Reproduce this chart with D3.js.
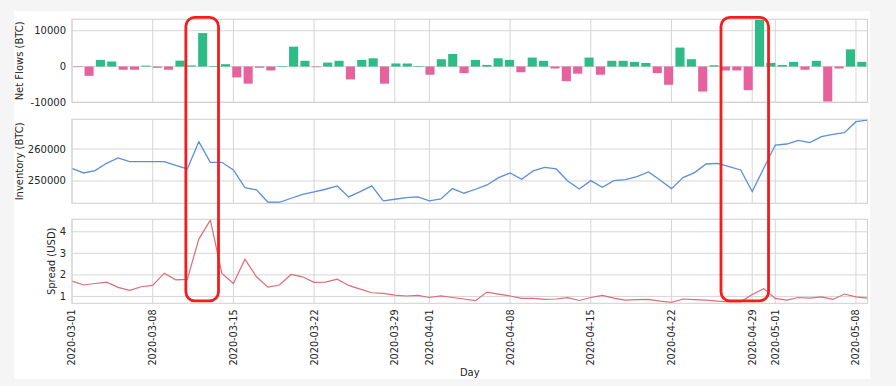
<!DOCTYPE html>
<html>
<head>
<meta charset="utf-8">
<script src="https://cdn.jsdelivr.net/npm/d3@7"></script>
<style>
  html, body { margin: 0; padding: 0; background: #f5f5f5; }
  svg { display: block; }
  text { font-family: "DejaVu Sans", sans-serif; fill: #262626; }
</style>
</head>
<body>
<div id="chart"></div>
<script>
// daily values, 2020-03-01 .. 2020-05-09
const startDay = "2020-03-01"
const endDay = "2020-05-09"

const netFlows = [
  -150, -2600, 1850, 1400, -900, -900, 250, -350, -900, 1650,
  300, 9350, 150, 650, -3050, -4800, -350, -1100, 50, 5550,
  1600, -200, 1100, 1600, -3600, 1850, 2300, -4800, 850, 850,
  50, -2300, 2050, 3500, -1850, 1850, 450, 2300, 1850, -1600,
  2500, 1600, -550, -4100, -2000, 2500, -2300, 1600, 1600, 1300,
  1000, -1850, -5100, 5300, 2050, -7000, 350, -1100, -1100, -6600,
  13200, 1000, 450, 1300, -900, 1600, -9800, -550, 4800, 1300
]

const inventory = [
  253960, 252500, 253230, 255520, 257190, 256040, 256040, 256040, 256040, 254900,
  253750, 262290, 255830, 255830, 253440, 247920, 247190, 243330, 243330, 244580,
  245830, 246560, 247400, 248440, 245000, 246670, 248440, 243750, 244270, 244790,
  245000, 243750, 244380, 247600, 246150, 247400, 248750, 251040, 252500, 250520,
  253130, 254270, 253750, 250000, 247500, 250100, 248020, 250100, 250420, 251350,
  252810, 250310, 247600, 251040, 252600, 255310, 255520, 254480, 253440, 246670,
  253960, 261250, 261560, 262710, 261980, 263850, 264580, 265100, 268540, 269060
]

const spread = [
  1.71, 1.53, 1.60, 1.66, 1.42, 1.28, 1.45, 1.51, 2.08, 1.77,
  1.79, 3.66, 4.54, 2.07, 1.60, 2.73, 1.91, 1.43, 1.53, 2.02,
  1.91, 1.65, 1.66, 1.80, 1.51, 1.34, 1.17, 1.14, 1.06, 1.02,
  1.05, 0.95, 1.02, 0.95, 0.88, 0.80, 1.20, 1.11, 1.02, 0.91,
  0.91, 0.86, 0.88, 0.94, 0.81, 0.95, 1.05, 0.92, 0.83, 0.85,
  0.86, 0.78, 0.72, 0.88, 0.85, 0.83, 0.78, 0.75, 0.75, 1.09,
  1.36, 0.91, 0.83, 0.95, 0.92, 0.98, 0.86, 1.11, 0.98, 0.92
]

const dayTicks = ["2020-03-01", "2020-03-08", "2020-03-15", "2020-03-22", "2020-03-29",
  "2020-04-01", "2020-04-08", "2020-04-15", "2020-04-22", "2020-04-29", "2020-05-01", "2020-05-08"]
const flowTicks = [-10000, 0, 10000]
const inventoryTicks = [250000, 260000]
const spreadTicks = [1, 2, 3, 4]

// the two hand drawn boxes
const highlights = [
  ["2020-03-10T21:00", "2020-03-13T17:00"],
  ["2020-04-26T07:00", "2020-04-30T10:00"]
]

const width = 896
const height = 386
const left = 72
const right = 867.5

const parse = d3.utcParse("%Y-%m-%d")
const parseHour = d3.utcParse("%Y-%m-%dT%H:%M")
const days = d3.utcDay.range(parse(startDay), d3.utcDay.offset(parse(endDay), 1))

const svg = d3.select("#chart").append("svg")
  .attr("width", width)
  .attr("height", height)

svg.append("rect")
  .attr("x", 14).attr("y", 11)
  .attr("width", 856).attr("height", 368)
  .attr("fill", "#fff")

const x = d3.scaleUtc()
  .domain([days[0], days[days.length - 1]])
  .range([left, right])

// bars sit in their own band axis, like the categorical bar plot
const xBand = d3.scaleBand()
  .domain(days.map(d => +d))
  .range([left, right])
  .paddingInner(0.2)
  .paddingOuter(0.1)

const panels = [
  {top: 19.3, bottom: 102.3, domain: [-10000, 13200], ticks: flowTicks, label: "Net Flows (BTC)", labelX: 19},
  {top: 119.3, bottom: 203.3, domain: [243000, 269300], ticks: inventoryTicks, label: "Inventory (BTC)", labelX: 19},
  {top: 219.3, bottom: 303.3, domain: [0.68, 4.58], ticks: spreadTicks, label: "Spread (USD)", labelX: 51}
]

const gridColor = "#d6d6d6"

panels.forEach(p => {
  p.y = d3.scaleLinear().domain(p.domain).range([p.bottom, p.top])
  const g = svg.append("g")
  p.g = g

  g.selectAll("line.vgrid")
    .data(dayTicks.map(parse))
    .enter().append("line")
    .attr("x1", d => x(d)).attr("x2", d => x(d))
    .attr("y1", p.top).attr("y2", p.bottom)
    .attr("stroke", gridColor).attr("stroke-width", 1)

  g.selectAll("line.hgrid")
    .data(p.ticks)
    .enter().append("line")
    .attr("x1", left).attr("x2", right)
    .attr("y1", d => p.y(d)).attr("y2", d => p.y(d))
    .attr("stroke", gridColor).attr("stroke-width", 1)

  g.selectAll("text.ytick")
    .data(p.ticks)
    .enter().append("text")
    .attr("x", left - 6)
    .attr("y", d => p.y(d))
    .attr("dy", "0.35em")
    .attr("text-anchor", "end")
    .style("font-size", "10px")
    .text(d => d)

  g.append("text")
    .attr("transform", `translate(${p.labelX},${(p.top + p.bottom) / 2}) rotate(-90)`)
    .attr("text-anchor", "middle")
    .attr("dy", "0.35em")
    .style("font-size", "10px")
    .text(p.label)
})

// net flows
const flowY = panels[0].y
panels[0].g.selectAll("rect.bar")
  .data(netFlows)
  .enter().append("rect")
  .attr("x", (d, i) => xBand(+days[i]))
  .attr("width", xBand.bandwidth())
  .attr("y", d => flowY(Math.max(0, d)))
  .attr("height", d => Math.max(0.6, Math.abs(flowY(d) - flowY(0))))
  .attr("fill", d => d >= 0 ? "#2dbb87" : "#e6629c")

// inventory
const invY = panels[1].y
panels[1].g.append("path")
  .datum(inventory)
  .attr("fill", "none")
  .attr("stroke", "#5b8fdb")
  .attr("stroke-width", 1.3)
  .attr("d", d3.line().x((d, i) => x(days[i])).y(d => invY(d)))

// spread
const spreadY = panels[2].y
panels[2].g.append("path")
  .datum(spread)
  .attr("fill", "none")
  .attr("stroke", "#df6b78")
  .attr("stroke-width", 1.2)
  .attr("d", d3.line().x((d, i) => x(days[i])).y(d => spreadY(d)))

// panel frames
panels.forEach(p => {
  p.g.append("rect")
    .attr("x", left).attr("y", p.top)
    .attr("width", right - left).attr("height", p.bottom - p.top)
    .attr("fill", "none")
    .attr("stroke", "#cfcfcf").attr("stroke-width", 1)
})

// date labels under the last panel
const bottomPanel = panels[2]
svg.selectAll("text.xtick")
  .data(dayTicks.map(parse))
  .enter().append("text")
  .attr("transform", d => `translate(${x(d)},${bottomPanel.bottom + 6}) rotate(-90)`)
  .attr("text-anchor", "end")
  .attr("dy", "0.35em")
  .style("font-size", "9.7px")
  .text(d => d3.utcFormat("%Y-%m-%d")(d))

svg.append("text")
  .attr("x", (left + right) / 2)
  .attr("y", 376)
  .attr("text-anchor", "middle")
  .style("font-size", "10px")
  .text("Day")

// red boxes
svg.selectAll("rect.highlight")
  .data(highlights)
  .enter().append("rect")
  .attr("x", d => x(parseHour(d[0])))
  .attr("width", d => x(parseHour(d[1])) - x(parseHour(d[0])))
  .attr("y", panels[0].top - 2)
  .attr("height", bottomPanel.bottom - panels[0].top - 0.5)
  .attr("rx", 9)
  .attr("fill", "none")
  .attr("stroke", "#f51c1c")
  .attr("stroke-width", 2.8)
</script>
</body>
</html>
